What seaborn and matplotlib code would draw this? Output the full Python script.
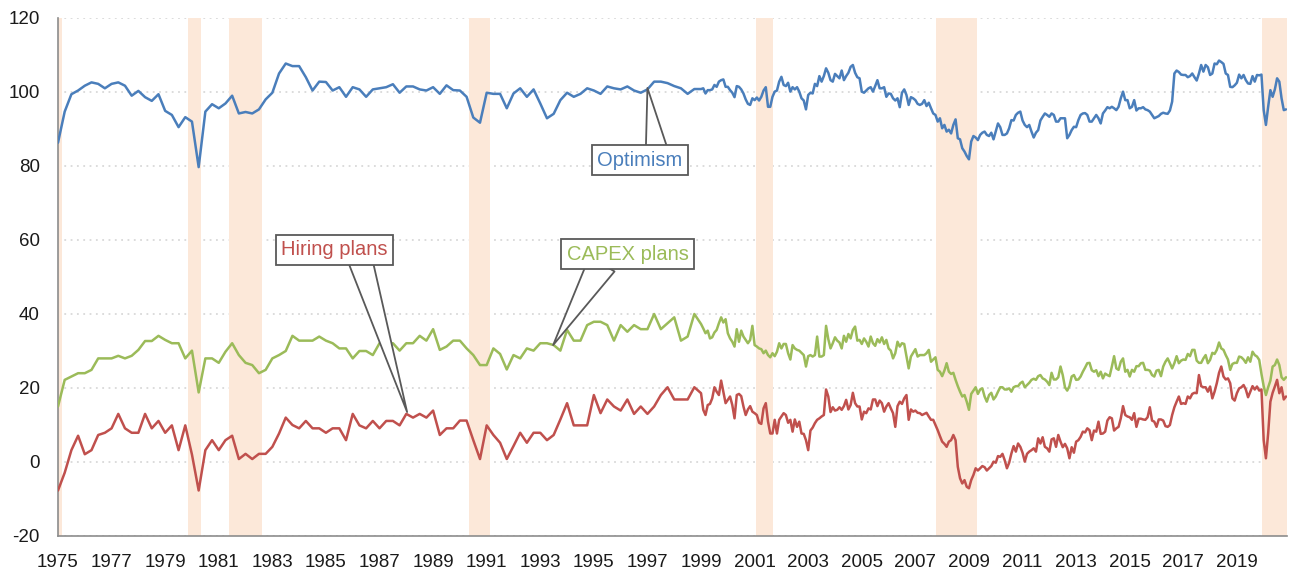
import numpy as np
import pandas as pd
import seaborn as sns
from matplotlib import pyplot as plt

# quarterly readings, 1975 Q1 - 1998 Q4
optimism_q = [86.3, 94.7, 99.4, 100.4, 101.7, 102.6, 102.2, 101.0, 102.2, 102.6, 101.7, 99.0,
              100.3, 98.6, 97.6, 99.4, 94.9, 93.8, 90.5, 93.2, 92.0, 79.7, 94.7, 96.7,
              95.6, 96.9, 99.0, 94.2, 94.6, 94.2, 95.3, 98.0, 99.8, 105.0, 107.7, 107.0,
              107.0, 104.0, 100.4, 102.8, 102.7, 100.4, 101.3, 98.7, 101.3, 100.7, 98.7, 100.7,
              101.0, 101.3, 102.1, 99.8, 101.5, 101.5, 100.7, 100.4, 101.3, 99.5, 101.8, 100.5,
              100.4, 98.7, 93.1, 91.7, 99.8, 99.5, 99.5, 95.6, 99.6, 101.0, 98.7, 100.7,
              96.9, 92.9, 94.1, 97.8, 99.8, 98.7, 99.5, 101.0, 100.4, 99.5, 101.5, 101.0,
              100.7, 101.5, 100.4, 99.8, 100.7, 102.8, 102.8, 102.4, 101.6, 101.0, 99.5, 100.8]
capex_q = [15.0, 22.2, 23.1, 24.0, 24.0, 24.9, 28.0, 28.0, 28.0, 28.7, 28.0, 28.7,
           30.3, 32.7, 32.7, 34.1, 33.0, 32.1, 32.1, 28.0, 30.1, 18.8, 28.0, 28.0,
           26.8, 29.8, 32.1, 28.9, 26.8, 26.2, 24.0, 24.9, 28.0, 28.9, 30.0, 34.1,
           32.8, 32.8, 32.8, 33.9, 32.8, 32.1, 30.7, 30.7, 28.0, 30.0, 30.0, 28.9,
           32.1, 32.1, 32.1, 30.1, 32.1, 32.1, 34.1, 32.8, 35.9, 30.3, 31.2, 32.8,
           32.8, 30.7, 28.9, 26.2, 26.2, 30.7, 29.2, 25.0, 28.9, 28.0, 30.7, 30.1,
           32.1, 32.1, 31.6, 30.1, 35.7, 32.8, 32.8, 37.0, 37.9, 37.9, 37.0, 32.8,
           37.0, 35.2, 37.0, 35.9, 35.9, 40.0, 35.9, 37.5, 39.1, 32.8, 33.9, 40.0]
hiring_q = [-7.7, -2.9, 3.2, 7.1, 2.1, 3.2, 7.3, 7.9, 9.1, 13.0, 9.1, 7.9,
            7.9, 13.0, 9.1, 11.1, 7.9, 9.9, 3.2, 9.9, 2.0, -7.7, 3.2, 5.9,
            3.2, 5.9, 7.1, 0.8, 2.2, 0.8, 2.2, 2.2, 4.1, 7.7, 12.0, 10.0,
            9.1, 11.1, 9.1, 9.1, 7.9, 9.1, 9.1, 5.9, 13.0, 9.9, 9.1, 11.1,
            9.1, 11.1, 11.1, 9.9, 13.0, 12.0, 13.0, 12.0, 13.9, 7.3, 9.1, 9.1,
            11.2, 11.2, 5.9, 0.8, 9.9, 7.3, 5.2, 0.8, 4.3, 7.9, 5.2, 7.9,
            7.9, 5.9, 7.3, 11.5, 15.9, 9.9, 9.9, 9.9, 18.1, 13.2, 16.9, 15.0,
            13.9, 16.9, 13.0, 15.0, 13.0, 15.0, 18.1, 20.2, 16.9, 16.9, 16.9, 20.2]

# monthly readings, Jan 1999 - Nov 2020
optimism_m = [100.8, 101.0, 99.6, 100.5, 100.5, 100.7, 101.9, 101.4, 102.8, 103.2, 103.4, 101.4,
              101.4, 100.5, 99.8, 98.6, 101.6, 101.4, 100.7, 99.6, 98.0, 96.8, 96.5, 98.3,
              97.8, 98.5, 97.7, 98.7, 100.4, 101.3, 96.0, 96.0, 98.7, 100.1, 100.4, 102.8,
              104.1, 101.9, 101.6, 102.5, 100.1, 101.3, 100.7, 101.3, 100.1, 98.3, 97.7, 95.3,
              99.2, 99.8, 99.6, 102.2, 101.6, 104.3, 102.8, 104.3, 106.4, 105.2, 103.2, 102.8,
              104.9, 104.3, 103.7, 105.8, 103.2, 104.3, 105.2, 106.8, 107.3, 105.2, 104.0, 103.7,
              100.1, 99.8, 100.4, 101.0, 101.3, 100.1, 101.6, 103.2, 101.0, 101.0, 101.3, 98.7,
              99.6, 99.5, 98.3, 97.7, 98.3, 95.9, 99.8, 100.7, 99.2, 96.5, 98.6, 98.3,
              97.8, 96.8, 96.5, 96.8, 97.8, 96.2, 97.1, 95.6, 94.2, 93.8, 92.0, 92.9,
              90.2, 91.1, 89.3, 89.8, 88.8, 91.1, 92.6, 87.5, 87.2, 84.8, 83.9, 82.7,
              81.8, 86.6, 88.1, 87.7, 87.0, 88.4, 89.0, 89.3, 88.4, 88.1, 89.0, 87.2,
              89.3, 91.5, 90.5, 88.4, 88.4, 88.8, 90.2, 92.4, 92.3, 93.8, 94.4, 94.7,
              92.3, 91.1, 90.5, 91.1, 89.3, 87.7, 89.0, 89.7, 92.3, 93.3, 94.2, 93.8,
              93.3, 94.2, 93.8, 92.0, 92.0, 92.9, 92.9, 92.9, 87.5, 88.4, 89.7, 90.6,
              90.5, 92.4, 93.8, 94.2, 94.3, 93.8, 92.0, 92.0, 92.9, 93.8, 92.9, 91.5,
              94.2, 95.0, 95.9, 95.6, 96.0, 95.6, 95.1, 96.0, 98.3, 100.1, 97.8, 97.8,
              95.6, 96.0, 97.8, 95.0, 95.6, 95.6, 95.9, 95.3, 95.1, 94.7, 93.8, 92.9,
              93.2, 93.5, 94.1, 94.4, 94.2, 94.1, 95.0, 97.4, 105.0, 105.8, 105.4, 104.7,
              104.6, 104.6, 104.0, 104.3, 105.0, 104.0, 103.1, 105.0, 107.3, 105.5, 107.3, 106.7,
              104.6, 105.0, 107.7, 107.5, 108.5, 108.1, 107.6, 105.0, 104.6, 101.4, 101.3, 101.8,
              102.5, 104.7, 103.7, 104.6, 103.2, 102.3, 102.2, 104.3, 102.8, 104.6, 104.5, 104.7,
              95.1, 91.1, 96.0, 100.5, 98.7, 100.7, 103.7, 102.8, 98.3, 95.1, 95.3]
capex_m = [37.3, 36.1, 34.8, 35.5, 33.4, 33.7, 35.0, 35.7, 37.5, 39.1, 37.7, 38.6,
           34.8, 33.4, 32.5, 31.2, 35.9, 32.5, 35.5, 33.9, 33.0, 32.1, 33.0, 36.8,
           31.6, 31.2, 30.7, 30.5, 29.4, 30.1, 28.9, 28.3, 29.4, 28.6, 29.8, 32.1,
           30.7, 31.9, 31.9, 29.4, 27.7, 31.6, 30.7, 30.3, 30.1, 29.5, 28.9, 25.8,
           28.6, 28.9, 28.5, 28.9, 33.9, 28.5, 28.5, 28.9, 36.8, 33.2, 30.7, 32.1,
           33.7, 32.8, 32.3, 30.7, 34.1, 32.5, 34.6, 33.4, 35.7, 36.6, 32.8, 33.0,
           31.9, 33.4, 32.5, 31.2, 33.9, 32.1, 31.4, 33.2, 32.3, 33.7, 31.9, 33.0,
           30.7, 30.1, 28.0, 29.4, 32.5, 31.2, 32.1, 31.9, 28.6, 25.3, 28.5, 29.5,
           30.5, 28.5, 28.9, 28.9, 28.9, 29.4, 30.3, 27.1, 27.7, 28.3, 24.9, 24.4,
           23.2, 24.7, 26.7, 24.4, 23.8, 24.1, 22.2, 20.5, 19.0, 17.7, 18.1, 16.3,
           14.1, 18.4, 19.3, 20.2, 18.4, 19.6, 19.9, 17.7, 16.3, 18.1, 18.7, 16.9,
           17.7, 19.0, 20.2, 20.2, 19.6, 19.6, 19.9, 19.0, 20.2, 20.5, 20.5, 21.3,
           21.7, 20.2, 20.8, 21.4, 22.2, 22.5, 22.2, 23.2, 23.5, 22.6, 22.3, 21.7,
           20.8, 24.1, 22.3, 22.3, 22.9, 25.8, 23.5, 20.2, 19.3, 20.5, 23.1, 23.5,
           22.2, 22.3, 23.1, 24.4, 25.5, 26.7, 26.8, 24.8, 24.4, 24.8, 23.2, 24.4,
           22.6, 23.9, 23.5, 23.2, 25.8, 28.6, 25.3, 24.9, 27.1, 28.0, 24.4, 24.9,
           23.1, 24.9, 24.4, 25.9, 25.9, 26.7, 26.8, 24.9, 24.9, 24.7, 23.5, 23.1,
           24.7, 24.9, 23.2, 25.8, 27.1, 28.0, 26.7, 25.3, 26.7, 28.6, 26.7, 27.4,
           27.7, 27.6, 29.2, 28.6, 30.3, 30.3, 27.4, 26.8, 26.8, 28.0, 28.9, 26.7,
           27.6, 29.5, 29.2, 30.3, 32.3, 30.7, 30.3, 28.9, 27.7, 24.9, 26.5, 26.8,
           26.8, 28.5, 28.3, 27.7, 26.8, 28.3, 27.1, 29.8, 28.9, 28.5, 27.6, 23.8,
           20.5, 18.1, 20.2, 22.0, 25.8, 26.2, 27.7, 26.2, 22.9, 22.2, 22.9]
hiring_m = [18.6, 14.1, 12.7, 15.4, 15.7, 17.2, 20.2, 19.0, 18.1, 22.0, 19.0, 15.9,
            16.8, 17.7, 15.4, 11.8, 18.1, 18.4, 17.8, 15.0, 12.7, 14.2, 15.1, 13.6,
            13.2, 12.7, 10.6, 10.3, 14.5, 15.9, 10.9, 7.7, 7.7, 11.4, 7.7, 11.4,
            12.3, 13.2, 12.7, 10.6, 11.4, 8.2, 11.5, 9.5, 10.9, 7.7, 7.6, 5.9,
            3.2, 8.5, 9.3, 10.5, 11.4, 11.8, 12.3, 12.7, 19.6, 17.7, 13.5, 14.8,
            13.9, 14.1, 14.8, 14.1, 15.1, 16.8, 14.2, 15.4, 18.7, 15.9, 15.0, 15.0,
            11.5, 13.6, 13.2, 14.5, 14.2, 16.9, 16.9, 15.1, 16.6, 15.9, 13.6, 15.0,
            15.9, 14.5, 13.2, 9.5, 15.1, 16.3, 15.7, 17.2, 18.1, 11.4, 14.2, 13.6,
            13.9, 13.3, 13.2, 12.7, 13.0, 13.3, 12.3, 11.4, 11.4, 10.0, 8.6, 7.0,
            5.5, 4.9, 4.1, 5.5, 5.9, 7.3, 5.9, -1.3, -4.4, -5.8, -4.9, -6.7,
            -7.1, -4.9, -3.5, -1.7, -2.3, -1.7, -1.1, -1.4, -2.3, -1.7, -1.1, 0.1,
            -0.2, 1.6, 1.4, 2.2, 0.5, -1.7, -0.2, 2.3, 4.3, 2.8, 5.0, 4.1,
            2.5, 0.1, 2.2, 2.8, 3.2, 3.7, 2.8, 6.4, 5.0, 6.7, 4.1, 3.7,
            2.8, 6.1, 6.4, 4.1, 7.3, 5.5, 4.0, 4.9, 3.7, 1.0, 4.0, 2.5,
            5.5, 5.9, 6.8, 8.2, 8.0, 9.1, 8.6, 5.9, 8.5, 8.2, 10.9, 7.6,
            7.7, 8.2, 11.2, 12.1, 11.8, 8.5, 9.1, 9.5, 11.8, 15.1, 12.7, 12.3,
            12.1, 11.4, 13.2, 9.5, 11.7, 11.7, 11.5, 11.4, 12.1, 14.8, 11.2, 10.9,
            9.5, 11.5, 11.5, 11.2, 9.7, 9.5, 10.0, 12.7, 14.8, 16.3, 17.7, 15.7,
            15.9, 15.7, 17.7, 17.2, 18.4, 18.7, 18.6, 23.5, 20.5, 20.2, 20.2, 19.0,
            20.4, 17.2, 19.0, 21.3, 24.1, 25.8, 23.1, 22.3, 22.6, 21.3, 17.2, 16.6,
            18.6, 19.9, 20.2, 20.8, 19.6, 17.5, 19.0, 20.5, 19.6, 20.4, 19.3, 19.6,
            5.9, 1.0, 7.7, 16.3, 18.7, 20.4, 22.2, 18.6, 20.2, 16.9, 17.7]

# recession periods (start, end) in fractional years
recessions = [(1975.0, 1975.15), (1979.86, 1980.35), (1981.38, 1982.62), (1990.35, 1991.14),
              (2001.05, 2001.69), (2007.78, 2009.3), (2019.95, 2020.9)]

colours = {'Optimism': '#4A7EBB', 'CAPEX plans': '#9BBB59', 'Hiring plans': '#C0504D'}

years = np.concatenate([1975 + np.arange(len(optimism_q)) / 4, 1999 + np.arange(len(optimism_m)) / 12])
frames = []
for name, q, m in [('Optimism', optimism_q, optimism_m), ('CAPEX plans', capex_q, capex_m),
                   ('Hiring plans', hiring_q, hiring_m)]:
    frames.append(pd.DataFrame({'year': years, 'value': q + m, 'series': name}))
df = pd.concat(frames, ignore_index=True)

sns.set_style('white')
plt.rcParams['font.family'] = ['Liberation Sans', 'DejaVu Sans']
plt.rcParams['axes.unicode_minus'] = False

fig, ax = plt.subplots(figsize=(12.9, 5.74), dpi=100)
fig.subplots_adjust(left=58 / 1290, right=1287 / 1290, bottom=1 - 536 / 574, top=1 - 18 / 574)

for start, end in recessions:
    ax.axvspan(start, end, color='#FCE8D9', lw=0, zorder=1)

sns.lineplot(data=df, x='year', y='value', hue='series', palette=colours, estimator=None,
             lw=1.8, legend=False, ax=ax, zorder=3)

ax.set_xlim(1975, 2020.87)
ax.set_ylim(-20, 120)
ax.set_xticks(range(1975, 2020, 2))
ax.set_yticks(range(-20, 121, 20))
ax.set_xlabel('')
ax.set_ylabel('')
ax.yaxis.grid(True, ls=(0, (1, 2.5)), color='#D9D9D9', lw=1.3)
ax.set_axisbelow(True)
for side in ['top', 'right']:
    ax.spines[side].set_visible(False)
for side in ['left', 'bottom']:
    ax.spines[side].set_color('#8C8C8C')
    ax.spines[side].set_linewidth(1.2)
ax.tick_params(axis='both', direction='out', length=5, width=1.2, color='#8C8C8C',
               labelsize=13.5, labelcolor='#1A1A1A')
ax.tick_params(axis='x', pad=8)
ax.tick_params(axis='y', pad=8)

box = dict(boxstyle='square,pad=0.27', fc='white', ec='#595959', lw=1.3)
ax.annotate('Hiring plans', xy=(1988.03, 13.5), xytext=(1985.32, 57.3), ha='center', va='center',
            color=colours['Hiring plans'], fontsize=14.5, bbox=box, zorder=5,
            arrowprops=dict(arrowstyle='wedge,tail_width=1.2', fc='white', ec='#595959', lw=1.3,
                            relpos=(0.74, 0.0), patchA=None, shrinkA=0, shrinkB=0))
ax.annotate('Optimism', xy=(1997.0, 101.1), xytext=(1996.71, 81.6), ha='center', va='center',
            color=colours['Optimism'], fontsize=14.5, bbox=box, zorder=5,
            arrowprops=dict(arrowstyle='wedge,tail_width=1.1', fc='white', ec='#595959', lw=1.3,
                            relpos=(0.70, 1.0), patchA=None, shrinkA=0, shrinkB=0))
ax.annotate('CAPEX plans', xy=(1993.48, 31.6), xytext=(1996.26, 56.1), ha='center', va='center',
            color=colours['CAPEX plans'], fontsize=14.5, bbox=box, zorder=5,
            arrowprops=dict(arrowstyle='wedge,tail_width=1.45', fc='white', ec='#595959', lw=1.3,
                            relpos=(0.29, 0.0), patchA=None, shrinkA=0, shrinkB=0))

plt.savefig('out.png', dpi=100)
